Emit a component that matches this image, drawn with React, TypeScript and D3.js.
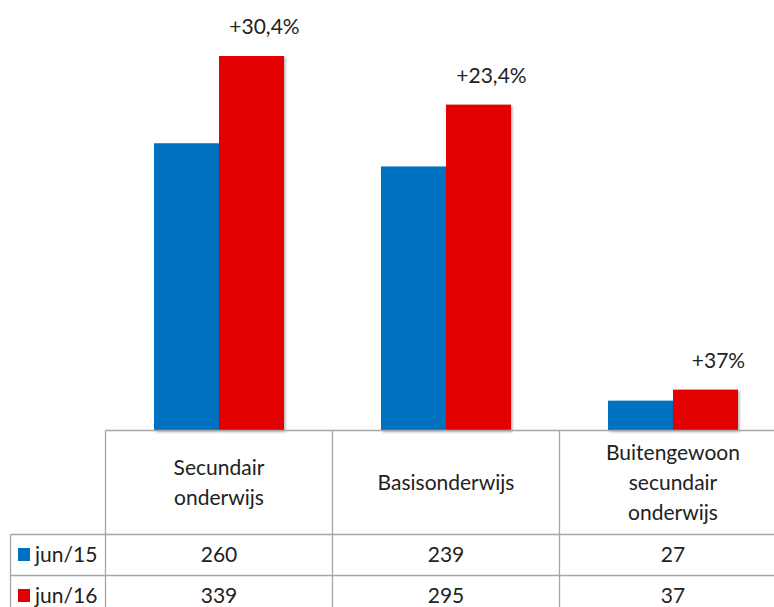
import { useRef, useEffect } from "react";
import * as d3 from "d3";

const categories = [
  ["Secundair", "onderwijs"],
  ["Basisonderwijs"],
  ["Buitengewoon", "secundair", "onderwijs"],
];
const seriesNames = ["jun/15", "jun/16"];
const jun15 = [260, 239, 27];
const jun16 = [339, 295, 37];
const growthLabels = ["+30,4%", "+23,4%", "+37%"];
const colors = ["#0070C0", "#E30000"];

export default function App() {
  const svgRef = useRef<SVGSVGElement>(null);

  useEffect(() => {
    drawChart();
  }, []);

  function drawChart() {
    if (!svgRef.current) return;
    const svg = d3.select(svgRef.current);
    svg.selectAll("*").remove();

    const font = "Lato, 'Open Sans', sans-serif";
    const fs = 21;
    const left = 105.5;
    const right = 786.5;
    const baseline = 430.5;
    const rowLines = [534.5, 575.5];
    const tableLeft = 10.5;
    const gridColor = "#a6a6a6";

    const x = d3
      .scaleBand<number>()
      .domain(d3.range(categories.length))
      .range([left, right]);
    const inner = d3
      .scaleBand<number>()
      .domain([0, 1])
      .range([0, 130])
      .paddingInner(0);
    const y = d3.scaleLinear().domain([0, 339]).range([baseline, 56]);

    const defs = svg.append("defs");
    const f = defs
      .append("filter")
      .attr("id", "shadow")
      .attr("x", "-10%")
      .attr("y", "-10%")
      .attr("width", "130%")
      .attr("height", "130%");
    f.append("feDropShadow")
      .attr("dx", 1.5)
      .attr("dy", 1.5)
      .attr("stdDeviation", 1.2)
      .attr("flood-color", "#000")
      .attr("flood-opacity", 0.3);

    const series = [jun15, jun16];
    const g = svg.append("g");
    series.forEach((vals, si) => {
      g.selectAll(`rect.s${si}`)
        .data(vals)
        .enter()
        .append("rect")
        .attr("class", `s${si}`)
        .attr("x", (_, i) => x(i)! + (x.bandwidth() - 130) / 2 + inner(si)!)
        .attr("y", (d) => y(d))
        .attr("width", inner.bandwidth())
        .attr("height", (d) => baseline - y(d))
        .attr("fill", colors[si])
        .attr("filter", "url(#shadow)");
    });

    // growth labels
    g.selectAll("text.growth")
      .data(growthLabels)
      .enter()
      .append("text")
      .attr("class", "growth")
      .attr("x", (_, i) => x(i)! + (x.bandwidth() - 130) / 2 + inner(1)! + inner.bandwidth() / 2 + 13)
      .attr("y", (_, i) => y(jun16[i]) - 22)
      .attr("text-anchor", "middle")
      .attr("font-family", font)
      .attr("font-size", fs)
      .attr("fill", "#222")
      .text((d) => d);

    // table grid
    const lines = svg.append("g").attr("stroke", gridColor).attr("stroke-width", 1.3);
    lines.append("line").attr("x1", left).attr("x2", 774).attr("y1", baseline).attr("y2", baseline);
    rowLines.forEach((ry) =>
      lines.append("line").attr("x1", tableLeft).attr("x2", 774).attr("y1", ry).attr("y2", ry)
    );
    lines.append("line").attr("x1", tableLeft).attr("x2", tableLeft).attr("y1", rowLines[0]).attr("y2", 607);
    d3.range(categories.length + 1).forEach((i) => {
      const xx = i < categories.length ? x(i)! : right;
      lines.append("line").attr("x1", xx).attr("x2", xx).attr("y1", baseline).attr("y2", 607);
    });

    // header labels
    const headerMid = (baseline + rowLines[0]) / 2;
    const lh = 30;
    categories.forEach((lines2, i) => {
      const t = svg
        .append("text")
        .attr("text-anchor", "middle")
        .attr("font-family", font)
        .attr("font-size", fs)
        .attr("fill", "#222");
      lines2.forEach((ln, j) => {
        t.append("tspan")
          .attr("x", x(i)! + x.bandwidth() / 2)
          .attr("y", headerMid + 7 + (j - (lines2.length - 1) / 2) * lh)
          .text(ln);
      });
    });

    // data rows
    const rowTops = [rowLines[0], rowLines[1]];
    series.forEach((vals, si) => {
      const mid = rowTops[si] + 20.5;
      svg
        .append("rect")
        .attr("x", 18)
        .attr("y", mid - 7)
        .attr("width", 12)
        .attr("height", 13)
        .attr("fill", colors[si]);
      svg
        .append("text")
        .attr("x", 35)
        .attr("y", mid + 7)
        .attr("font-family", font)
        .attr("font-size", fs)
        .attr("fill", "#222")
        .text(seriesNames[si]);
      svg
        .selectAll(`text.v${si}`)
        .data(vals)
        .enter()
        .append("text")
        .attr("class", `v${si}`)
        .attr("x", (_, i) => x(i)! + x.bandwidth() / 2)
        .attr("y", mid + 7)
        .attr("text-anchor", "middle")
        .attr("font-family", font)
        .attr("font-size", fs)
        .attr("fill", "#222")
        .text((d) => d);
    });
  }

  return (
    <svg
      ref={svgRef}
      width={774}
      height={607}
      style={{ position: "absolute", left: 0, top: 0, background: "#fff" }}
    />
  );
}
